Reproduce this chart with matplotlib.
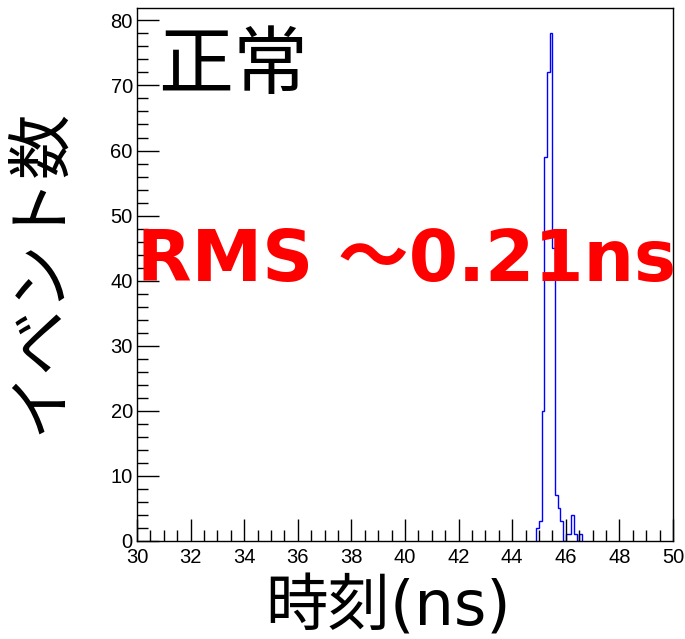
import numpy as np
import matplotlib.pyplot as plt
from matplotlib.ticker import MultipleLocator

# histogram of event times (ns), 0.1 ns bins
bin_edges = [44.9, 45.0, 45.1, 45.2, 45.3, 45.4, 45.5, 45.6, 45.7,
             45.8, 45.9, 46.0, 46.1, 46.2, 46.3, 46.4, 46.5, 46.6]
counts = [2, 3, 20, 59, 72, 78, 45, 7, 5,
          3, 0, 1, 1, 4, 1, 0, 1]

x_range = (30, 50)
y_max = 81.9

title_text = "正常"
rms_text = "RMS ～0.21ns"
x_title = "時刻(ns)"
y_title = "イベント数"

cjk = ['Noto Sans CJK JP', 'DejaVu Sans']
latin_first = ['DejaVu Sans', 'Noto Sans CJK JP']

fig = plt.figure(figsize=(6.85, 6.39), dpi=100)
ax = fig.add_axes([137/685, 98/639, 536/685, 533/639])

ax.stairs(counts, bin_edges, color='#0000ff', linewidth=1.0, baseline=0)

ax.set_xlim(*x_range)
ax.set_ylim(0, y_max)

ax.xaxis.set_major_locator(MultipleLocator(2))
ax.xaxis.set_minor_locator(MultipleLocator(0.5))
ax.yaxis.set_major_locator(MultipleLocator(10))
ax.yaxis.set_minor_locator(MultipleLocator(2))
ax.tick_params(which='both', direction='in', top=False, right=False,
               labelsize=14.5, width=1)
ax.tick_params(axis='x', pad=5)
ax.tick_params(axis='y', pad=3)
ax.tick_params(which='major', length=16)
ax.tick_params(which='minor', length=8)
for lab in ax.get_xticklabels() + ax.get_yticklabels():
    lab.set_family('Liberation Sans')
for sp in ax.spines.values():
    sp.set_linewidth(1)

# labels
fig.text(388/685, 1 - 608/639, x_title, ha='center', va='center',
         fontsize=45, family=latin_first)
fig.text(40/685, 1 - 271/639, y_title, ha='center', va='center',
         rotation=90, fontsize=47, family=cjk)

ax.text(0.04, 0.962, title_text, transform=ax.transAxes, ha='left', va='top',
        fontsize=54, family=cjk)
ax.text(30, 40, rms_text, ha='left', va='baseline', color='red',
        fontsize=51, fontweight='bold', family=latin_first, zorder=5)

fig.savefig('out.png', dpi=100)
